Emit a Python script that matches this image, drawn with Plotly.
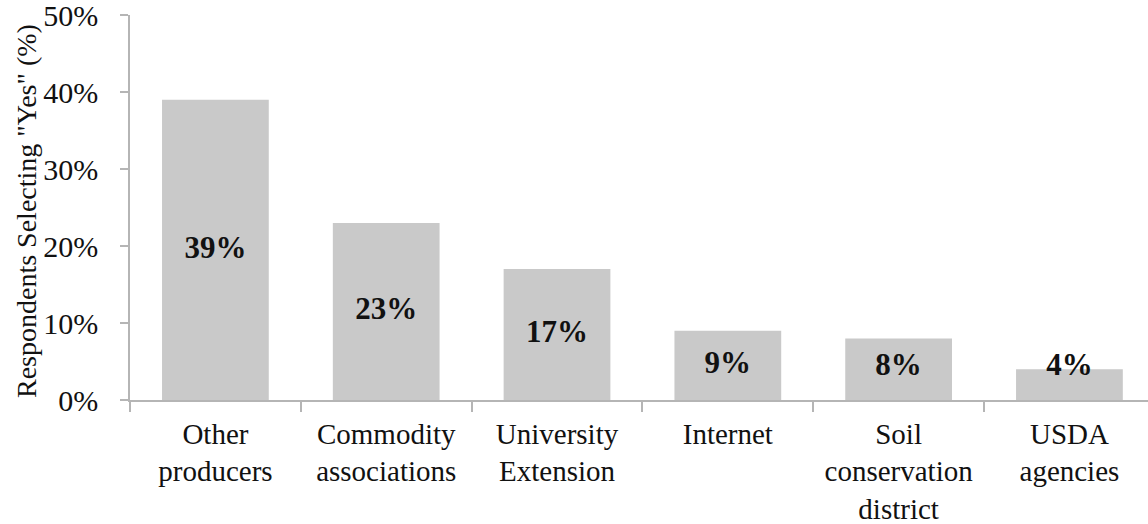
import plotly.graph_objects as go

categories = ["Other<br>producers", "Commodity<br>associations", "University<br>Extension",
              "Internet", "Soil<br>conservation<br>district", "USDA<br>agencies"]
values = [39, 23, 17, 9, 8, 4]
value_labels = ["39%", "23%", "17%", "9%", "8%", "4%"]
y_tick_values = [0, 10, 20, 30, 40, 50]
y_tick_labels = ["0%", "10%", "20%", "30%", "40%", "50%"]

FONT = "Liberation Serif"
AX = "#b5b5b5"

label_y = [max(v / 2, 4.3) for v in values]

fig = go.Figure()
fig.add_trace(go.Bar(x=categories, y=values, marker=dict(color="#c9c9c9", line=dict(width=0)),
                     width=0.625, hoverinfo="skip"))
fig.add_trace(go.Scatter(x=categories, y=label_y, mode="text", text=value_labels,
                         textfont=dict(family=FONT, size=31, color="#111111", weight="bold"),
                         hoverinfo="skip"))

W, H = 1148, 524
L, R, T, B = 130, 0, 15, 124
fig.update_layout(
    width=W, height=H,
    margin=dict(l=L, r=R, t=T, b=B, autoexpand=False),
    paper_bgcolor="white", plot_bgcolor="white",
    showlegend=False,
    font=dict(family=FONT, size=29, color="#111111"),
    xaxis=dict(type="category", range=[-0.5, 5.46], tickson="boundaries",
               ticks="outside", ticklen=10, tickcolor=AX, tickwidth=1.5,
               showline=True, linecolor=AX, linewidth=1.5, showgrid=False,
               ticklabelstandoff=7, automargin=False,
               tickfont=dict(family=FONT, size=29, color="#111111")),
    yaxis=dict(range=[0, 50], tickvals=y_tick_values, ticktext=y_tick_labels,
               ticks="outside", ticklen=8, tickcolor=AX, tickwidth=1.5,
               showline=True, linecolor=AX, linewidth=1.5, showgrid=False, zeroline=False,
               ticklabelstandoff=16, ticklabeloverflow="allow", automargin=False,
               tickfont=dict(family=FONT, size=30, color="#111111")),
    annotations=[dict(text='Respondents Selecting "Yes" (%)', xref="paper", yref="paper",
                      x=-(L - 27) / (W - L - R), y=(H - B - 211) / (H - T - B),
                      xanchor="center", yanchor="middle",
                      textangle=-90, showarrow=False,
                      font=dict(family=FONT, size=28, color="#111111"))],
)

fig.write_html("out.html")
